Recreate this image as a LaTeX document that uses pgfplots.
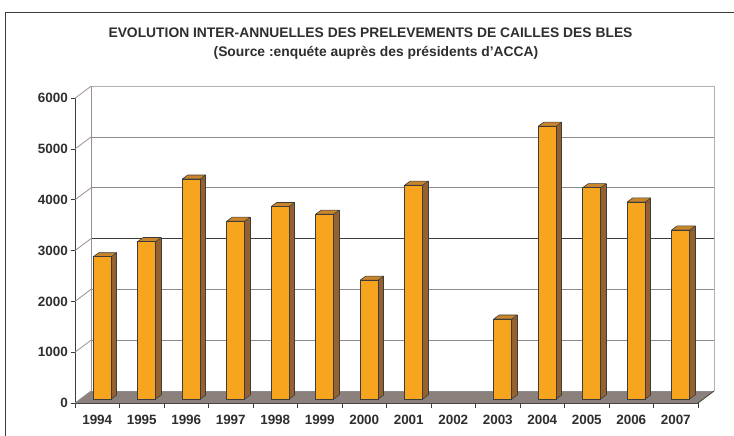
\documentclass[border=0pt]{standalone}
\usepackage{fontspec}
\setmainfont{Liberation Sans}
\usepackage{pgfplots}
\usepackage{pgfplotstable}
\pgfplotsset{compat=1.18}
\definecolor{barfront}{HTML}{F7A51E}
\definecolor{barside}{HTML}{94612F}
\definecolor{bartopc}{HTML}{C9852B}
\definecolor{floorc}{HTML}{8C807C}
\definecolor{edgec}{HTML}{3C3C3C}
\definecolor{wallc}{HTML}{9A908D}
\definecolor{walllight}{HTML}{B8B0AD}
\definecolor{gridc}{HTML}{8C8C8C}
\definecolor{txt}{HTML}{2E2E2E}

% top face of a 3D column + upper triangle of its side face
\pgfdeclareplotmark{bar3dtop}{%
  \pgfsetlinewidth{0.6bp}\pgfsetroundjoin
  \pgfsetstrokecolor{edgec}%
  \pgfsetfillcolor{barside}%
  \pgfpathmoveto{\pgfpoint{14bp}{-0.7bp}}%
  \pgfpathlineto{\pgfpoint{14bp}{0bp}}%
  \pgfpathlineto{\pgfpoint{19.5bp}{4bp}}%
  \pgfpathlineto{\pgfpoint{19.5bp}{-0.7bp}}%
  \pgfpathclose
  \pgfusepath{fill}%
  \pgfsetfillcolor{bartopc}%
  \pgfpathmoveto{\pgfpoint{-4bp}{0bp}}%
  \pgfpathlineto{\pgfpoint{1.5bp}{4bp}}%
  \pgfpathlineto{\pgfpoint{19.5bp}{4bp}}%
  \pgfpathlineto{\pgfpoint{14bp}{0bp}}%
  \pgfpathclose
  \pgfusepath{fill,stroke}%
  \pgfpathmoveto{\pgfpoint{19.5bp}{4bp}}%
  \pgfpathlineto{\pgfpoint{19.5bp}{-0.7bp}}%
  \pgfusepath{stroke}%
}
% foot of a 3D column: floor triangle under the slanted bottom of the side face
\pgfdeclareplotmark{bar3dbase}{%
  \pgfsetfillcolor{floorc}%
  \pgfpathmoveto{\pgfpoint{14bp}{-0.8bp}}%
  \pgfpathlineto{\pgfpoint{20.2bp}{-0.8bp}}%
  \pgfpathlineto{\pgfpoint{20.2bp}{4bp}}%
  \pgfpathlineto{\pgfpoint{19.5bp}{4bp}}%
  \pgfpathlineto{\pgfpoint{14bp}{0bp}}%
  \pgfpathclose
  \pgfusepath{fill}%
  \pgfsetlinewidth{0.6bp}\pgfsetroundjoin
  \pgfsetstrokecolor{edgec}%
  \pgfpathmoveto{\pgfpoint{14bp}{0bp}}%
  \pgfpathlineto{\pgfpoint{19.5bp}{4bp}}%
  \pgfusepath{stroke}%
}

% x = category index (1994 = 0), v = prelevements (2002: no data)
\pgfplotstableread{
x v
0 2800
1 3100
2 4330
3 3500
4 3790
5 3640
6 2340
7 4210
9 1575
10 5370
11 4160
12 3880
13 3330
}\bardata

\begin{document}
\begin{tikzpicture}
\path[use as bounding box] (0,0) rectangle (734bp,436bp);
\draw[edgec, line width=0.9bp] (5.5bp,0) -- (5.5bp,424bp) -- (734bp,424bp);
\node[font=\bfseries\fontsize{13.9}{16}\selectfont, text=txt] at (370.5bp,403.5bp)
  {EVOLUTION INTER-ANNUELLES DES PRELEVEMENTS DE CAILLES DES BLES};
\node[font=\bfseries\fontsize{13.9}{16}\selectfont, text=txt] at (376bp,383bp)
  {(Source :enquéte auprès des présidents d'ACCA)};
\begin{axis}[
  at={(75bp,33bp)}, anchor=south west, scale only axis,
  width=623bp, height=305bp,
  xmin=-0.5, xmax=13.5, ymin=-79, ymax=5925,
  clip=false, clip marker paths=true,
  axis x line*=bottom, axis y line*=left,
  axis line style={-, edgec, line width=0.7bp},
  xtick={0,1,...,13},
  xticklabels={1994,1995,1996,1997,1998,1999,2000,2001,2002,2003,2004,2005,2006,2007},
  minor xtick={-0.5,0.5,...,13.5},
  major x tick style={draw=none},
  ytick={-79,921,1921,2921,3921,4921,5921},
  yticklabels={0,1000,2000,3000,4000,5000,6000},
  tick align=outside, major tick length=4.5bp, minor tick length=5bp,
  tick style={edgec, line width=0.7bp},
  ticklabel style={font=\bfseries\fontsize{13.5}{13.5}\selectfont, text=txt},
  yticklabel style={inner sep=0pt, xshift=-2.5bp},
  xticklabel style={anchor=north, inner sep=0pt, yshift=-7bp},
]
% floor
\fill[floorc] (axis cs:-0.5,-79) -- (axis cs:13.5,-79) -- (axis cs:13.86,157) -- (axis cs:-0.14,157) -- cycle;
% back wall gridlines
\draw[gridc, line width=0.8bp] (axis cs:-0.14,157) -- (axis cs:13.86,157);
\draw[gridc, line width=0.8bp] (axis cs:-0.14,1157) -- (axis cs:13.86,1157);
\draw[gridc, line width=0.8bp] (axis cs:-0.14,2157) -- (axis cs:13.86,2157);
\draw[edgec, line width=0.8bp] (axis cs:-0.14,3157) -- (axis cs:13.86,3157);
\draw[gridc, line width=0.8bp] (axis cs:-0.14,4157) -- (axis cs:13.86,4157);
\draw[gridc, line width=0.8bp] (axis cs:-0.14,5157) -- (axis cs:13.86,5157);
\draw[walllight, line width=0.8bp] (axis cs:-0.14,6157) -- (axis cs:13.86,6157);
% side walls
\draw[wallc, line width=0.8bp] (axis cs:-0.14,157) -- (axis cs:-0.14,6157);
\draw[walllight, line width=0.8bp] (axis cs:13.86,157) -- (axis cs:13.86,6157);
\draw[wallc, line width=0.8bp] (axis cs:-0.5,-79) -- (axis cs:-0.14,157);
\draw[wallc, line width=0.8bp] (axis cs:-0.5,921) -- (axis cs:-0.14,1157);
\draw[wallc, line width=0.8bp] (axis cs:-0.5,1921) -- (axis cs:-0.14,2157);
\draw[wallc, line width=0.8bp] (axis cs:-0.5,2921) -- (axis cs:-0.14,3157);
\draw[wallc, line width=0.8bp] (axis cs:-0.5,3921) -- (axis cs:-0.14,4157);
\draw[wallc, line width=0.8bp] (axis cs:-0.5,4921) -- (axis cs:-0.14,5157);
\draw[wallc, line width=0.8bp] (axis cs:-0.5,5921) -- (axis cs:-0.14,6157);
\draw[edgec, line width=0.8bp] (axis cs:13.5,-79) -- (axis cs:13.86,157);
% columns
\addplot[ybar, bar width=5.5bp, bar shift=16.75bp, fill=barside, draw=edgec, line width=0.6bp]
  table[x=x, y=v] {\bardata};
\addplot[only marks, mark=bar3dbase] table[x=x, y expr=0] {\bardata};
\addplot[only marks, mark=bar3dtop] table[x=x, y=v] {\bardata};
\addplot[ybar, bar width=18bp, bar shift=5bp, fill=barfront, draw=edgec, line width=0.6bp]
  table[x=x, y=v] {\bardata};
\end{axis}
\end{tikzpicture}
\end{document}
